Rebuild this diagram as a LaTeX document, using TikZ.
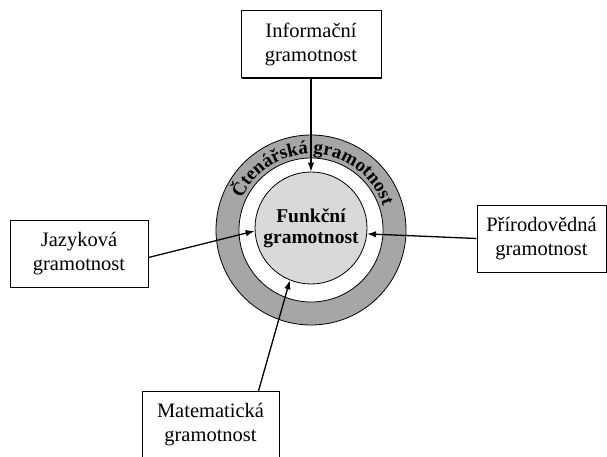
\documentclass[tikz,border=0pt]{standalone}
\usepackage{fontspec}
\setmainfont{Liberation Serif}
\usepackage{tikz}
\usetikzlibrary{arrows.meta,shadows,decorations.text}

\begin{document}
\begin{tikzpicture}[x=1pt,y=1pt,
   box/.style={draw,line width=1pt,fill=white,minimum height=67pt,align=center,inner sep=2pt,
      font=\fontsize{20.5}{24}\selectfont,
      drop shadow={shadow xshift=1.3pt,shadow yshift=-1.3pt,fill=black,opacity=1}},
   arr/.style={draw,line width=1.3pt,-{Latex[length=9pt,width=6.5pt]}}]
   \useasboundingbox (0,0) rectangle (607,-457);
   % rings
   \filldraw[fill=black!35,draw=black,line width=0.8pt] (311,-230) circle (95);
   \filldraw[fill=white,draw=black,line width=0.8pt] (311,-230) circle (72);
   \path[decorate,decoration={text along path,text align=center,
      text={|\bfseries\fontsize{19}{22}\selectfont|Čtenářská gramotnost}}]
      (311,-230) ++(160:76) arc (160:14:76);
   \node[circle,draw,line width=0.8pt,fill=black!15,minimum size=112pt,inner sep=0pt,align=center,
      font=\bfseries\fontsize{19.5}{21}\selectfont] (fun) at (311,-228) {Funkční\\gramotnost};
   % boxes
   \foreach \pos/\name/\bw/\disp in {{(311,-44)/inf/140/Informační\\gramotnost}, {(79,-253.5)/jaz/138/Jazyková\\gramotnost}, {(541.5,-238.5)/pri/129/Přírodovědná\\gramotnost}, {(210.5,-425)/mat/137/Matematická\\gramotnost}}
   \node[box,minimum width=\bw pt] (\name) at \pos {\disp};
   % arrows to the centre
   \path[arr] (inf.south) -- (fun.north);
   \path[arr] ([yshift=-4pt]jaz.east) -- (fun.183);
   \path[arr] (pri.west) -- (fun.-6);
   \path[arr] ([xshift=48pt]mat.north) -- (fun.248);
\end{tikzpicture}
\end{document}
